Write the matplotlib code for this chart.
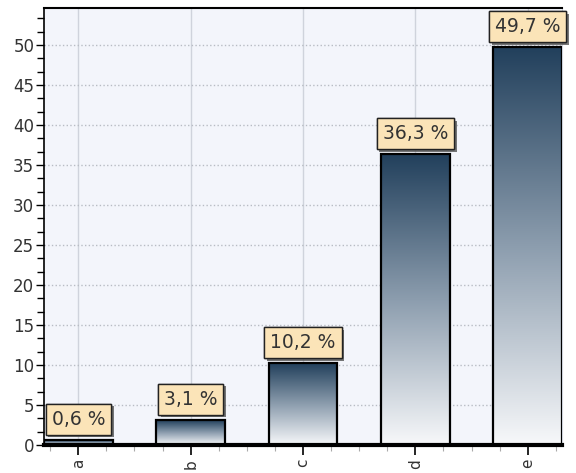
import numpy as np
import matplotlib
matplotlib.use('Agg')
import matplotlib.pyplot as plt
from matplotlib.colors import LinearSegmentedColormap
from matplotlib.ticker import MultipleLocator
import matplotlib.patheffects as pe

# ── 데이터 ─────────────────────────────────────────────
categories = ['a', 'b', 'c', 'd', 'e']
values     = [0.6, 3.1, 10.2, 36.3, 49.7]
labels     = ['0,6 %', '3,1 %', '10,2 %', '36,3 %', '49,7 %']

BAR_W = 0.61
grad_cmap = LinearSegmentedColormap.from_list('bar', ['#f7f8fa', '#8c9dae', '#22405c'])

fig = plt.figure(figsize=(5.76, 4.73), dpi=100)
ax = fig.add_axes([0.0764, 0.0592, 0.8993, 0.9238])
ax.set_facecolor('#f3f5fb')

x = np.arange(len(categories))
ax.set_xlim(-0.305, 4.305)
ax.set_ylim(0, 54.6)

# 그라데이션 막대
grad = np.linspace(0, 1, 256).reshape(-1, 1)
for xi, v in zip(x, values):
    ax.imshow(grad, cmap=grad_cmap, origin='lower', aspect='auto',
              extent=(xi - BAR_W / 2, xi + BAR_W / 2, 0, v),
              interpolation='bicubic', zorder=2)
ax.bar(x, values, width=BAR_W, facecolor='none', edgecolor='black',
       linewidth=1.6, zorder=3)

# 값 라벨
for xi, v, lab in zip(x, values, labels):
    t = ax.annotate(lab, xy=(xi, v), xytext=(0, 21), textcoords='offset pixels',
                    ha='center', va='center', fontsize=13.5, color='#333333',
                    zorder=6, annotation_clip=False,
                    bbox=dict(boxstyle='square,pad=0.32', facecolor='#fbe4b8',
                              edgecolor='#222222', linewidth=1.0))
    t.get_bbox_patch().set_path_effects(
        [pe.withSimplePatchShadow(offset=(2, -2), shadow_rgbFace='#555555', alpha=0.8),
         pe.Normal()])

# 축, 눈금, 격자
ax.set_xticks(x)
ax.set_xticklabels(categories, rotation=90, fontsize=11, color='#333333')
ax.xaxis.set_minor_locator(MultipleLocator(0.25))
ax.yaxis.set_major_locator(MultipleLocator(5))
ax.yaxis.set_minor_locator(MultipleLocator(5 / 3))
ax.tick_params(axis='y', which='major', length=6, width=1, pad=1,
               labelsize=12, labelcolor='#333333')
ax.tick_params(axis='y', which='minor', length=5, width=1)
ax.tick_params(axis='x', which='major', length=7, width=1.2, pad=3)
ax.tick_params(axis='x', which='minor', length=4, width=0.8, color='#aaaaaa')

ax.grid(axis='x', which='major', color='#cfd3dc', linewidth=1.0, linestyle='-', zorder=0)
ax.grid(axis='y', which='major', color='#b8bcc4', linewidth=1.0, linestyle=':', zorder=0)
ax.set_axisbelow(True)

ax.spines['bottom'].set_linewidth(3)
ax.spines['top'].set_linewidth(1.5)
ax.spines['left'].set_linewidth(1.2)
ax.spines['right'].set_color('#cfd3dc')

plt.savefig('out.png', dpi=100)
